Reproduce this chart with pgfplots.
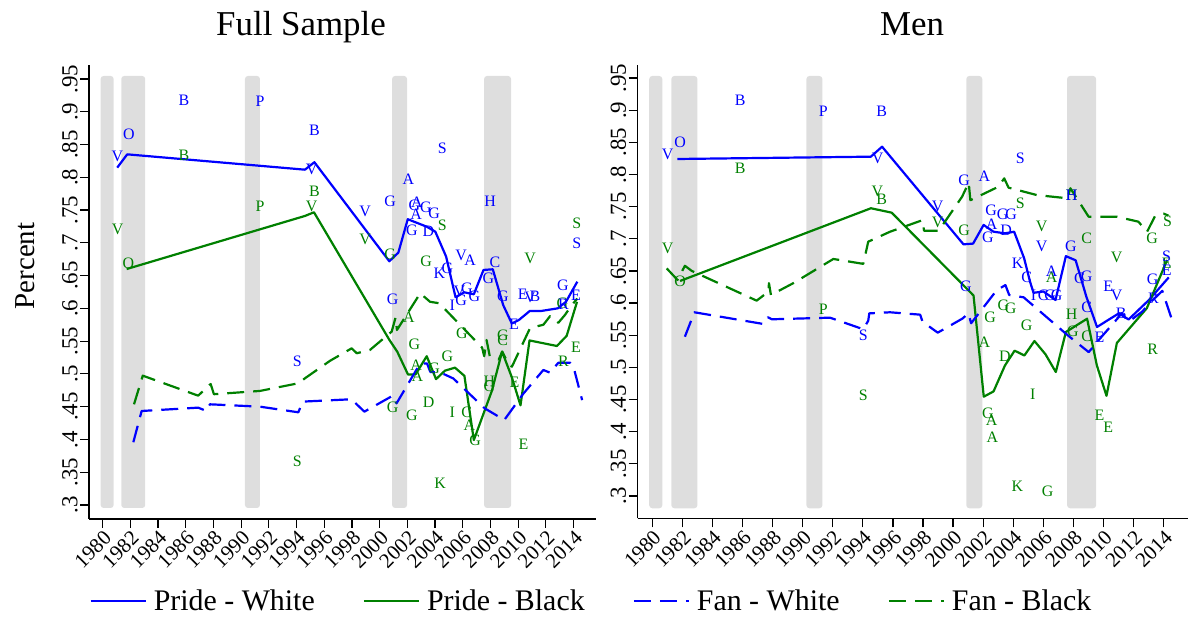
\documentclass[border=0pt]{standalone}
\usepackage{fontspec}
\setmainfont{Liberation Serif}
\usepackage{pgfplots}
\usepackage{pgfplotstable}
\pgfplotsset{compat=1.18}
\definecolor{sblue}{RGB}{0,0,255}
\definecolor{sgreen}{RGB}{0,128,0}
\definecolor{rbar}{RGB}{222,222,222}

% ---------------- Full sample ----------------
\pgfplotstableread{
x y
1981.06 .8147
1981.78 .835
1994.61 .8116
1995.29 .823
2000.70 .6718
2001.35 .685
2002.03 .736
2003.40 .7246
2004.02 .717
2004.80 .679
2005.48 .617
2006.10 .6245
2006.80 .6215
2007.50 .6586
2008.17 .6596
2008.92 .605
2009.54 .577
2010.04 .582
2010.84 .596
2011.66 .596
2012.85 .600
2013.45 .610
2014.27 .6407
}\PWL
\pgfplotstableread{
x y
1981.74 .660
1994.61 .741
1995.26 .7466
2000.70 .552
2001.27 .534
2002.05 .499
2002.60 .4994
2003.40 .527
2004.07 .492
2004.72 .505
2005.44 .5095
2006.12 .497
2006.80 .399
2008.10 .474
2008.84 .534
2009.54 .495
2010.17 .452
2010.82 .551
2012.80 .5426
2013.50 .558
2014.25 .610
}\PBL
\pgfplotstableread{
x y
1982.22 .3957
1982.82 .4434
1986.90 .4485
1987.50 .4434
1987.75 .4536
1991.36 .450
1994.13 .4414
1994.45 .4577
1997.96 .4613
1998.90 .4424
2000.97 .4670
2001.22 .455
2002.93 .516
2003.42 .516
2003.66 .503
2004.40 .502
2005.32 .493
2007.58 .4475
2009.00 .4297
2010.38 .470
2011.82 .506
2012.30 .5018
2012.90 .517
2013.75 .517
2013.99 .511
2014.62 .460
}\FWL
\pgfplotstableread{
x y
1982.27 .4536
1982.90 .4973
1986.90 .4668
1987.80 .4846
1988.04 .469
1991.36 .474
1994.13 .4857
1994.61 .4933
1996.42 .520
1997.98 .539
1998.35 .5315
1999.30 .5365
2000.87 .5645
2001.15 .586
2001.25 .567
2002.93 .623
2003.64 .610
2004.30 .6078
2007.40 .540
2007.55 .527
2007.72 .5517
2007.95 .527
2008.60 .522
2008.85 .534
2009.30 .515
2009.55 .511
2010.86 .570
2011.82 .575
2012.30 .588
2012.90 .578
2013.38 .590
2013.87 .605
2014.27 .615
}\FBL
\pgfplotstableread{
x y l
1981.06 .8326 V
1981.90 .8656 O
1985.88 .918 B
1991.36 .9154 P
1995.29 .872 B
1995.10 .812 V
1998.95 .7475 V
2000.75 .764 G
2002.07 .797 A
2002.50 .757 G
2002.68 .762 A
2003.33 .7547 G
2003.93 .745 G
2002.63 .744 A
2002.32 .7185 G
2003.52 .718 D
2004.53 .844 S
2004.31 .6535 K
2004.89 .661 G
2005.88 .6815 V
2006.53 .673 A
2007.97 .763 H
2008.33 .671 C
2007.85 .646 G
2014.23 .700 S
2013.22 .6357 G
2000.94 .6143 G
2005.25 .605 I
2005.88 .6128 G
2005.75 .6255 V
2006.29 .6307 G
2006.84 .6189 G
2008.89 .618 G
2010.33 .622 E
2010.86 .617 V
2011.22 .619 B
2009.70 .5757 E
2013.26 .6067 R
2014.18 .620 E
1994.06 .5197 S
}\LBL
\pgfplotstableread{
x y l
1981.09 .7207 V
1981.86 .669 O
1985.88 .834 B
1991.36 .755 P
1995.29 .778 B
1995.10 .756 V
1998.95 .7055 V
2000.75 .6825 G
2004.53 .727 S
2003.35 .672 G
2010.86 .676 V
2014.23 .7296 S
2013.20 .6078 G
2002.12 .586 A
2002.50 .545 G
2004.89 .527 G
2005.93 .562 G
2008.89 .5594 G
2008.89 .5517 C
2014.18 .540 E
2002.63 .5125 A
2002.72 .4958 A
2003.93 .5085 G
2013.26 .520 R
2007.92 .489 H
2007.92 .4805 G
2009.73 .4872 E
2003.54 .456 D
2000.94 .4485 G
2002.32 .437 G
2005.25 .4408 I
2006.29 .4408 C
2006.48 .421 A
2006.89 .399 G
2010.38 .3926 E
2004.36 .333 K
1994.06 .367 S
}\LGL

% ---------------- Men ----------------
\pgfplotstableread{
x y
1981.67 .8241
1994.53 .8277
1995.28 .8432
2000.69 .6914
2001.33 .6925
2002.03 .7215
2002.69 .711
2003.45 .7085
2004.06 .711
2004.72 .670
2005.12 .633
2005.35 .6160
2006.01 .618
2006.81 .6048
2007.50 .673
2008.15 .6665
2008.86 .610
2009.57 .5628
2010.31 .5737
2011.02 .584
2011.67 .5745
2013.02 .6048
2014.34 .640
}\PWR
\pgfplotstableread{
x y
1981.85 .6344
1994.54 .7475
1995.92 .7406
2001.36 .6118
2002.04 .4544
2002.69 .4626
2003.45 .503
2004.09 .526
2004.74 .5185
2005.41 .541
2006.14 .5205
2006.83 .4928
2007.50 .555
2008.91 .5757
2009.56 .503
2010.20 .4558
2010.89 .538
2012.88 .592
2014.23 .667
}\PBR
\pgfplotstableread{
x y
1982.17 .5477
1982.80 .5857
1987.39 .5675
1987.69 .578
1987.95 .5748
1991.82 .5773
1994.03 .5593
1994.36 .5726
1994.43 .584
1995.81 .5857
1997.81 .582
1997.97 .571
1998.98 .554
2000.63 .576
2001.02 .584
2001.20 .5686
2002.90 .620
2003.48 .628
2003.73 .6126
2004.69 .609
2007.62 .550
2009.02 .5237
2009.59 .540
2010.93 .5760
2011.20 .584
2011.68 .571
2012.57 .5866
2013.07 .600
2013.91 .619
2014.54 .575
}\FWR
\pgfplotstableread{
x y
1980.96 .654
1981.68 .636
1982.17 .658
1982.63 .650
1986.94 .6038
1987.72 .6177
1987.76 .631
1987.89 .6126
1989.38 .631
1992.04 .6686
1994.03 .661
1994.36 .6955
1995.81 .711
1997.97 .729
1998.07 .7126
1999.05 .7126
2000.60 .7655
2001.04 .7873
2001.15 .760
2003.02 .781
2003.40 .794
2003.69 .7795
2005.57 .768
2007.60 .763
2007.80 .7786
2009.01 .7344
2010.88 .7344
2012.32 .7266
2012.90 .711
2013.42 .735
2014.01 .739
2014.32 .736
}\FBR
\pgfplotstableread{
x y l
1981.03 .8319 V
1981.85 .8495 O
1985.84 .9158 B
1991.38 .8977 P
1995.26 .8977 B
1994.99 .8252 V
1994.03 .5504 S
2004.47 .8252 S
2002.08 .7977 A
2000.73 .7904 G
1998.97 .750 V
2002.53 .7437 G
2003.30 .7386 G
2003.86 .7386 G
2002.57 .7224 A
2002.31 .7017 G
2003.52 .7137 D
2005.89 .6888 V
2007.84 .6877 G
2004.29 .662 K
2004.89 .640 C
2006.55 .649 A
2008.40 .6386 C
2008.88 .641 G
2014.20 .672 S
2014.20 .6515 E
2013.27 .637 G
2010.32 .6266 E
2000.85 .6255 G
2005.35 .6126 I
2005.99 .6126 C
2006.45 .6126 G
2006.89 .6126 G
2010.88 .6126 V
2013.32 .6075 R
2008.88 .594 C
2011.17 .584 B
2009.74 .547 E
}\RBL
\pgfplotstableread{
x y l
1981.03 .6852 V
1981.85 .6344 O
1985.84 .8097 B
1994.96 .7733 V
1995.26 .7614 B
1991.38 .5903 P
1994.03 .4571 S
2004.47 .7552 S
1998.97 .725 V
2000.73 .7137 G
2005.89 .720 V
2008.88 .700 C
2010.88 .671 V
2013.24 .700 G
2014.26 .7266 S
2014.20 .662 E
2006.55 .640 A
2007.89 .5826 H
2002.46 .5773 G
2003.34 .597 G
2003.83 .5919 G
2004.89 .566 G
2007.96 .5555 G
2008.88 .5488 C
2002.08 .539 A
2003.45 .5177 D
2013.27 .528 R
2005.30 .4582 I
2002.31 .4286 G
2002.57 .418 A
2002.61 .392 A
2009.74 .4249 E
2010.32 .4068 E
2004.27 .3145 K
2006.29 .3067 G
2007.89 .768 H
}\RGL
\pgfplotstableread{
x y l
2007.89 .768 H
}\RBH

\pgfplotsset{
  statastyle/.style={
    scale only axis,
    clip=false,
    axis x line*=bottom, axis y line*=left,
    axis line style={-, line width=1.2bp, black},
    tick align=outside,
    major tick length=9bp,
    every tick/.style={black, line width=1.2bp},
    xtick={1980,1982,1984,1986,1988,1990,1992,1994,1996,1998,2000,2002,2004,2006,2008,2010,2012,2014},
    xticklabels={1980,1982,1984,1986,1988,1990,1992,1994,1996,1998,2000,2002,2004,2006,2008,2010,2012,2014},
    ytick={.3,.35,.4,.45,.5,.55,.6,.65,.7,.75,.8,.85,.9,.95},
    yticklabels={.3,.35,.4,.45,.5,.55,.6,.65,.7,.75,.8,.85,.9,.95},
    xticklabel style={rotate=45, anchor=north east, inner sep=1bp, font=\fontsize{21}{21}\selectfont},
    yticklabel style={rotate=90, anchor=south, inner sep=2bp, font=\fontsize{23}{23}\selectfont},
    legend image code/.code={\draw[#1] (0bp,0bp) -- (55bp,0bp);},
  },
  lbl/.style={draw=none, mark=none, forget plot, nodes near coords,
    point meta=explicit symbolic,
    nodes near coords style={anchor=center, inner sep=0pt, text=#1, font=\fontsize{16}{16}\selectfont}},
  solidl/.style={#1, line width=2.2bp, line join=round},
  dashl/.style={#1, line width=2.2bp, line join=round, dash pattern=on 17bp off 9bp},
}

\begin{document}
\begin{tikzpicture}[x=1bp,y=1bp]
\useasboundingbox (0,0) rectangle (1189,617);

\begin{axis}[statastyle,
  at={(89bp,98bp)}, anchor=south west,
  width=507bp, height=454.3bp,
  xmin=1979.02, xmax=2015.62, ymin=.2786, ymax=.9718,
  legend style={at={(0.996,-0.1805)}, anchor=center, draw=none, fill=none,
    legend columns=4, font=\fontsize{30}{34}\selectfont,
    nodes={inner xsep=7bp},
    /tikz/every even column/.append style={column sep=41bp}},
]
\addplot[fill=rbar, draw=none, forget plot, rounded corners=3bp] coordinates {(1979.86,.2954) (1980.80,.2954) (1980.80,.9546) (1979.86,.9546)} --cycle;
\addplot[fill=rbar, draw=none, forget plot, rounded corners=3bp] coordinates {(1981.35,.2954) (1983.08,.2954) (1983.08,.9546) (1981.35,.9546)} --cycle;
\addplot[fill=rbar, draw=none, forget plot, rounded corners=3bp] coordinates {(1990.28,.2954) (1991.36,.2954) (1991.36,.9546) (1990.28,.9546)} --cycle;
\addplot[fill=rbar, draw=none, forget plot, rounded corners=3bp] coordinates {(2000.90,.2954) (2001.98,.2954) (2001.98,.9546) (2000.90,.9546)} --cycle;
\addplot[fill=rbar, draw=none, forget plot, rounded corners=3bp] coordinates {(2007.54,.2954) (2009.49,.2954) (2009.49,.9546) (2007.54,.9546)} --cycle;
\addplot[lbl=sgreen] table[meta=l] {\LGL};
\addplot[lbl=sblue] table[meta=l] {\LBL};
\addplot[solidl=sblue] table {\PWL};
\addplot[solidl=sgreen] table {\PBL};
\addplot[dashl=sblue] table {\FWL};
\addplot[dashl=sgreen] table {\FBL};
\legend{Pride - White, Pride - Black, Fan - White, Fan - Black}
\end{axis}

\begin{axis}[statastyle,
  at={(637.5bp,98.7bp)}, anchor=south west,
  width=550.5bp, height=453.3bp,
  xmin=1979.02, xmax=2015.62, ymin=.2653, ymax=.9703,
]
\addplot[fill=rbar, draw=none, forget plot, rounded corners=3bp] coordinates {(1979.80,.2809) (1980.67,.2809) (1980.67,.9532) (1979.80,.9532)} --cycle;
\addplot[fill=rbar, draw=none, forget plot, rounded corners=3bp] coordinates {(1981.27,.2809) (1983.00,.2809) (1983.00,.9532) (1981.27,.9532)} --cycle;
\addplot[fill=rbar, draw=none, forget plot, rounded corners=3bp] coordinates {(1990.25,.2809) (1991.31,.2809) (1991.31,.9532) (1990.25,.9532)} --cycle;
\addplot[fill=rbar, draw=none, forget plot, rounded corners=3bp] coordinates {(2000.88,.2809) (2001.94,.2809) (2001.94,.9532) (2000.88,.9532)} --cycle;
\addplot[fill=rbar, draw=none, forget plot, rounded corners=3bp] coordinates {(2007.58,.2809) (2009.51,.2809) (2009.51,.9532) (2007.58,.9532)} --cycle;
\addplot[lbl=sgreen] table[meta=l] {\RGL};
\addplot[lbl=sblue] table[meta=l] {\RBL};
\addplot[solidl=sblue] table {\PWR};
\addplot[solidl=sgreen] table {\PBR};
\addplot[dashl=sblue] table {\FWR};
\addplot[dashl=sgreen] table {\FBR};
\addplot[lbl=sblue] table[meta=l] {\RBH};
\end{axis}

\node[anchor=base, font=\fontsize{35}{40}\selectfont] at (301,581) {Full Sample};
\node[anchor=base, font=\fontsize{35}{40}\selectfont] at (912,581) {Men};
\node[rotate=90, font=\fontsize{29}{34}\selectfont] at (25,351) {Percent};
\end{tikzpicture}
\end{document}
